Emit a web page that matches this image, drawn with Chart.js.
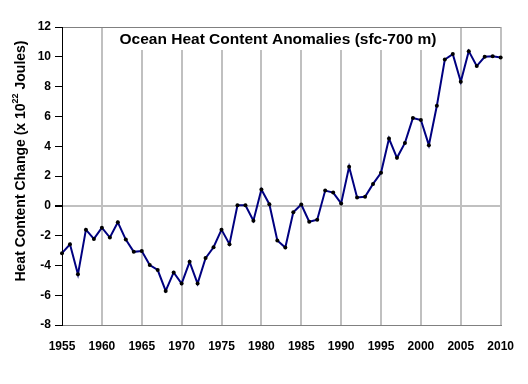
<!DOCTYPE html>
<html>
<head>
<meta charset="utf-8">
<script src="https://cdn.jsdelivr.net/npm/chart.js@4.4.1/dist/chart.umd.min.js"></script>
<style>
  html, body { margin: 0; padding: 0; background: #fff; }
  #wrap { width: 528px; height: 384px; position: relative; }
</style>
</head>
<body>
<div id="wrap"><canvas id="chartOhc"></canvas></div>
<script>
/* ============================
   Ocean heat content anomalies
   ============================ */

const years = [
  1955, 1956, 1957, 1958, 1959, 1960, 1961, 1962, 1963, 1964,
  1965, 1966, 1967, 1968, 1969, 1970, 1971, 1972, 1973, 1974,
  1975, 1976, 1977, 1978, 1979, 1980, 1981, 1982, 1983, 1984,
  1985, 1986, 1987, 1988, 1989, 1990, 1991, 1992, 1993, 1994,
  1995, 1996, 1997, 1998, 1999, 2000, 2001, 2002, 2003, 2004,
  2005, 2006, 2007, 2008, 2009, 2010
];

// heat content change, x 10^22 J
const heatContent = [
  -3.18, -2.58, -4.60, -1.60, -2.22, -1.47, -2.13, -1.11, -2.27, -3.09,
  -3.04, -3.98, -4.31, -5.71, -4.47, -5.22, -3.76, -5.22, -3.51, -2.78,
  -1.60, -2.58, 0.04, 0.04, -1.00, 1.09, 0.11, -2.33, -2.80, -0.44,
  0.09, -1.07, -0.93, 1.02, 0.89, 0.16, 2.62, 0.56, 0.60, 1.47,
  2.22, 4.51, 3.22, 4.22, 5.89, 5.76, 4.07, 6.71, 9.82, 10.18,
  8.33, 10.38, 9.38, 10.00, 10.04, 9.96
];

const chartTitle = "Ocean Heat Content Anomalies (sfc-700 m)";
const yTitle = ["Heat Content Change (x 10", "22", " Joules)"];

const PLOT_LEFT = 62, PLOT_RIGHT = 504, PLOT_TOP = 27, PLOT_BOTTOM = 325;
const W = 528, H = 384;

// title sits in a white box inside the plot, y title has a superscript
const labelsPlugin = {
  id: "ohcLabels",
  beforeDatasetsDraw(chart) {
    const ctx = chart.ctx;
    ctx.save();
    ctx.fillStyle = "#fff";
    ctx.fillRect(106, 28, 352, 22);
    ctx.fillStyle = "#000";
    ctx.font = "bold 15.5px 'Liberation Sans', Arial, sans-serif";
    ctx.textAlign = "center";
    ctx.textBaseline = "middle";
    ctx.fillText(chartTitle, 278, 40);
    ctx.restore();
  },
  afterDraw(chart) {
    const ctx = chart.ctx;
    ctx.save();
    ctx.translate(21, 161);
    ctx.rotate(-Math.PI / 2);
    ctx.fillStyle = "#000";
    ctx.textBaseline = "middle";
    const big = "bold 14px 'Liberation Sans', Arial, sans-serif";
    const small = "bold 9px 'Liberation Sans', Arial, sans-serif";
    ctx.font = big;
    const w0 = ctx.measureText(yTitle[0]).width;
    const w2 = ctx.measureText(yTitle[2]).width;
    ctx.font = small;
    const w1 = ctx.measureText(yTitle[1]).width;
    let x = -(w0 + w1 + w2) / 2;
    ctx.font = big;
    ctx.fillText(yTitle[0], x, 0);
    x += w0;
    ctx.font = small;
    ctx.fillText(yTitle[1], x, -5);
    x += w1;
    ctx.font = big;
    ctx.fillText(yTitle[2], x, 0);
    ctx.restore();
  }
};

Chart.defaults.font.family = "'Liberation Sans', Arial, sans-serif";
Chart.defaults.color = "#000";

new Chart(document.getElementById("chartOhc"), {
  type: "line",
  data: {
    datasets: [{
      data: years.map((yr, i) => ({ x: yr, y: heatContent[i] })),
      borderColor: "#000080",
      borderWidth: 2,
      tension: 0,
      pointRadius: 2,
      pointBackgroundColor: "#000",
      pointBorderColor: "#000",
      pointBorderWidth: 0,
      clip: false
    }]
  },
  options: {
    responsive: true,
    maintainAspectRatio: false,
    animation: false,
    layout: { padding: { left: 0, top: PLOT_TOP, right: W - PLOT_RIGHT, bottom: 0 } },
    plugins: {
      legend: { display: false },
      tooltip: { enabled: false }
    },
    scales: {
      x: {
        type: "linear",
        min: 1955,
        max: 2010,
        afterFit: s => { s.height = H - PLOT_BOTTOM; },
        ticks: {
          stepSize: 5,
          padding: 14,
          font: { size: 12, weight: "bold" },
          maxRotation: 0,
          callback: v => String(v)
        },
        grid: {
          drawTicks: false,
          color: c => c.tick && c.tick.value === 1955 ? "rgba(0,0,0,0)" : "#c0c0c0",
          lineWidth: 2
        },
        border: { color: "#808080", width: 1 }
      },
      y: {
        min: -8,
        max: 12,
        afterFit: s => { s.width = PLOT_LEFT; },
        ticks: {
          stepSize: 2,
          padding: 4,
          font: { size: 12, weight: "bold" }
        },
        grid: {
          tickLength: 7,
          tickColor: "#000",
          color: c => {
            if (!c.tick) return "rgba(0,0,0,0)";
            if (c.tick.value === 0) return "#c0c0c0";
            if (c.tick.value === 12) return "#808080";
            return "rgba(0,0,0,0)";
          },
          lineWidth: c => c.tick && c.tick.value === 0 ? 2 : 1
        },
        border: { color: "#000", width: 1 }
      }
    }
  },
  plugins: [labelsPlugin]
});
</script>
</body>
</html>
